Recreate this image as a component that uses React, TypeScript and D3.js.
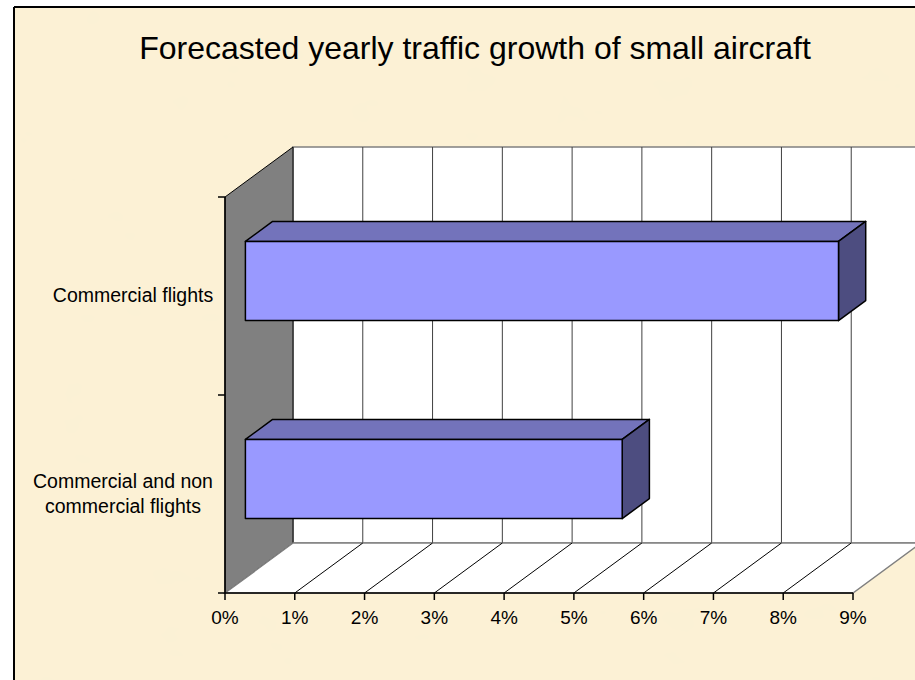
import React from "react";
import * as d3 from "d3";

const title = "Forecasted yearly traffic growth of small aircraft";
const categories = ["Commercial flights", "Commercial and non commercial flights"];
const categoryLines = [["Commercial flights"], ["Commercial and non", "commercial flights"]];
const values = [0.085, 0.054];
const ticks = [0, 0.01, 0.02, 0.03, 0.04, 0.05, 0.06, 0.07, 0.08, 0.09];

const W = 915;
const H = 680;
const FONT = "'Liberation Sans', Arial, sans-serif";

export default function App() {
  const x = d3.scaleLinear().domain([0, 0.09]).range([225, 853]);
  const y = d3.scaleBand<string>().domain(categories).range([197, 593]).padding(0);
  const D = { x: 68, y: -50 }; // depth vector
  const f0 = 0.3, f1 = 0.7; // bar depth span
  const barFrac = 0.4;
  const x0 = x(0), x9 = x(0.09);
  const yTop = y.range()[0], yBot = y.range()[1];
  const pct = d3.format(".0%");
  const pts = (a: number[][]) => a.map((p) => p.join(",")).join(" ");

  return (
    <div style={{ position: "absolute", left: 0, top: 0, width: W, height: H }}>
      <svg width={W} height={H} style={{ display: "block" }}>
        <defs>
          <filter id="parch" x="0" y="0" width="100%" height="100%">
            <feTurbulence type="fractalNoise" baseFrequency="0.02 0.03" numOctaves="3" seed="4" result="n" />
            <feColorMatrix
              in="n"
              type="matrix"
              values="0 0 0 0 0.96  0 0 0 0 0.87  0 0 0 0 0.66  0 0 0 0.6 -0.12"
            />
          </filter>
        </defs>
        <rect x={0} y={0} width={W} height={H} fill="#ffffff" />
        <rect x={14} y={7} width={W} height={H} fill="#FCF1D5" />
        <rect x={14} y={7} width={W} height={H} filter="url(#parch)" />
        <line x1={14} y1={7} x2={W} y2={7} stroke="#000" strokeWidth={2} />
        <line x1={14} y1={7} x2={14} y2={H} stroke="#000" strokeWidth={2} />

        <text x={475} y={59} textAnchor="middle" fontFamily={FONT} fontSize={32} fill="#000">
          {title}
        </text>

        {/* back wall */}
        <rect x={x0 + D.x} y={yTop + D.y} width={x9 - x0} height={yBot - yTop} fill="#fff" stroke="#808080" strokeWidth={1.5} />
        {ticks.slice(1).map((t) => (
          <line key={"g" + t} x1={x(t) + D.x} x2={x(t) + D.x} y1={yTop + D.y} y2={yBot + D.y} stroke="#404040" strokeWidth={1} />
        ))}
        {/* left wall */}
        <polygon
          points={pts([[x0, yTop], [x0 + D.x, yTop + D.y], [x0 + D.x, yBot + D.y], [x0, yBot]])}
          fill="#808080"
          stroke="#000"
          strokeWidth={1}
        />
        {/* floor */}
        <polygon
          points={pts([[x0, yBot], [x9, yBot], [x9 + D.x, yBot + D.y], [x0 + D.x, yBot + D.y]])}
          fill="#fff"
          stroke="#808080"
          strokeWidth={1.5}
        />
        {ticks.slice(1, -1).map((t) => (
          <line key={"f" + t} x1={x(t)} y1={yBot} x2={x(t) + D.x} y2={yBot + D.y} stroke="#000" strokeWidth={1} />
        ))}

        {/* axes */}
        <line x1={x0} y1={yTop} x2={x0} y2={yBot} stroke="#000" strokeWidth={1.5} />
        <line x1={x0} y1={yBot} x2={x9} y2={yBot} stroke="#000" strokeWidth={1.5} />
        {[yTop, yTop + y.step(), yBot].map((v, i) => (
          <line key={"yt" + i} x1={x0 - 7} x2={x0} y1={v} y2={v} stroke="#000" strokeWidth={1.5} />
        ))}
        {ticks.map((t) => (
          <g key={"xt" + t}>
            <line x1={x(t)} x2={x(t)} y1={yBot} y2={yBot + 7} stroke="#000" strokeWidth={1.5} />
            <text x={x(t)} y={624} textAnchor="middle" fontFamily={FONT} fontSize={19} fill="#000">
              {pct(t)}
            </text>
          </g>
        ))}

        {/* bars */}
        {categories.map((c, i) => {
          const bc = (y(c) as number) + y.bandwidth() / 2;
          const h = y.step() * barFrac;
          const fx = D.x * f0, fy = D.y * f0;
          const dx = D.x * (f1 - f0), dy = D.y * (f1 - f0);
          const l = x(0) + fx, r = x(values[i]) + fx;
          const t = bc - h / 2 + fy, b = bc + h / 2 + fy;
          return (
            <g key={c} stroke="#000" strokeWidth={1.5} strokeLinejoin="round">
              <polygon points={pts([[l, t], [r, t], [r + dx, t + dy], [l + dx, t + dy]])} fill="#7373BB" />
              <polygon points={pts([[r, t], [r + dx, t + dy], [r + dx, b + dy], [r, b]])} fill="#4D4D80" />
              <rect x={l} y={t} width={r - l} height={b - t} fill="#9999FF" />
            </g>
          );
        })}

        {/* category labels */}
        {categories.map((c, i) => {
          const bc = (y(c) as number) + y.bandwidth() / 2;
          const lines = categoryLines[i];
          const lh = 25;
          const startY = bc - ((lines.length - 1) * lh) / 2 + 6;
          const cx = lines.length > 1 ? 123 : 133;
          return (
            <text key={"l" + c} fontFamily={FONT} fontSize={19.5} fill="#000" textAnchor="middle">
              {lines.map((ln, k) => (
                <tspan key={k} x={cx} y={startY + k * lh}>
                  {ln}
                </tspan>
              ))}
            </text>
          );
        })}
      </svg>
    </div>
  );
}
